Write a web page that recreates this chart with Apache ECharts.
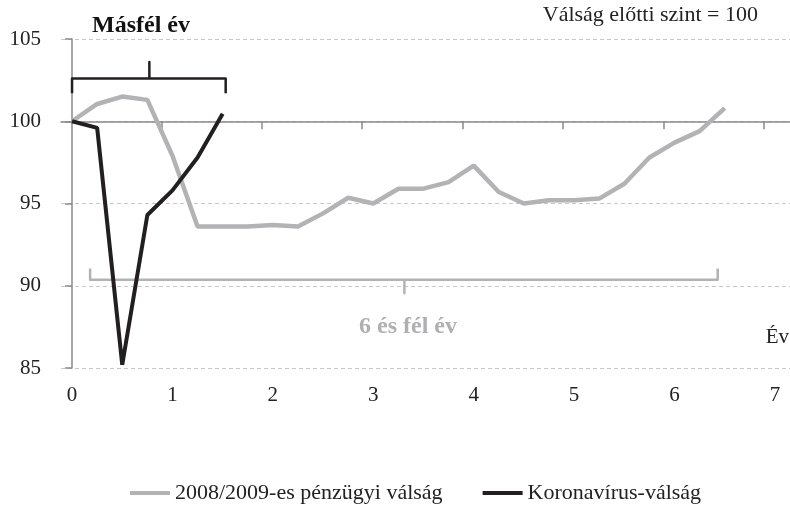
<!DOCTYPE html>
<html>
<head>
<meta charset="utf-8">
<script src="https://cdn.jsdelivr.net/npm/echarts@6/dist/echarts.min.js"></script>
<style>
  html, body { margin: 0; padding: 0; background: #fff; }
  #main { width: 790px; height: 505px; }
</style>
</head>
<body>
<div id="main"></div>
<script>
// negyedéves lépések (év)
var years = [0, 0.25, 0.5, 0.75, 1, 1.25, 1.5, 1.75, 2, 2.25, 2.5, 2.75, 3, 3.25, 3.5, 3.75, 4, 4.25, 4.5, 4.75, 5, 5.25, 5.5, 5.75, 6, 6.25, 6.5];
var crisis2008 = [100, 101.05, 101.5, 101.3, 97.9, 93.6, 93.6, 93.6, 93.7, 93.6, 94.4, 95.35, 95.0, 95.9, 95.9, 96.3, 97.3, 95.7, 95.0, 95.2, 95.2, 95.3, 96.2, 97.8, 98.7, 99.4, 100.8];
var covid = [100, 99.6, 85.2, 94.3, 95.8, 97.8, 100.45];
var xLabels = [0, 1, 2, 3, 4, 5, 6, 7];
var xTicks = [0.89, 1.89, 2.89, 3.89, 4.89, 5.89, 6.89];
var seriesNames = ['2008/2009-es pénzügyi válság', 'Koronavírus-válság'];

// kapcsos zárójelek (adat-koordinátában)
var bracketShort = [[0, 101.7], [0, 102.6], [0.77, 102.6], [0.77, 103.6], [0.77, 102.6], [1.53, 102.6], [1.53, 101.7]];
var bracketLong = [[0.18, 91.05], [0.18, 90.37], [3.31, 90.37], [3.31, 89.55], [3.31, 90.37], [6.43, 90.37], [6.43, 91.05]];

var font = '"Liberation Serif", "DejaVu Serif", serif';
var grayColor = '#b3b3b6';
var blackColor = '#231f20';

function pairs(xs, ys) {
  return ys.map(function (v, i) { return [xs[i], v]; });
}

var myChart = echarts.init(document.getElementById('main'));
myChart.setOption({
  animation: false,
  textStyle: { fontFamily: font },
  grid: [
    { left: 61, right: 0, top: 39, height: 329 },
    { left: 61, right: 0, top: 39, height: 82.25 }
  ],
  legend: {
    top: 477,
    left: 125,
    itemGap: 40,
    itemWidth: 40,
    itemHeight: 4,
    icon: 'rect',
    textStyle: { fontFamily: font, fontSize: 22, color: '#222' },
    data: seriesNames
  },
  xAxis: [{
    type: 'value',
    gridIndex: 0,
    min: -0.11,
    max: 7.15,
    axisLine: { show: false },
    axisTick: { show: false },
    splitLine: { show: false },
    axisLabel: {
      customValues: xLabels,
      margin: 17,
      fontSize: 21,
      color: '#222',
      fontFamily: font
    }
  }, {
    type: 'value',
    gridIndex: 1,
    min: -0.11,
    max: 7.15,
    axisLine: { show: true, lineStyle: { color: '#8a8a8a', width: 1.5 } },
    axisTick: { show: true, customValues: xTicks, length: 8, lineStyle: { color: '#8a8a8a', width: 1.5 } },
    axisLabel: { show: false },
    splitLine: { show: false }
  }],
  yAxis: [{
    type: 'value',
    gridIndex: 0,
    min: 85,
    max: 105,
    interval: 5,
    axisLine: { show: true, lineStyle: { color: '#8a8a8a', width: 1.5 } },
    axisTick: { show: true, length: 7, lineStyle: { color: '#8a8a8a', width: 1.5 } },
    splitLine: { show: true, lineStyle: { color: '#c8c8c8', type: [4, 3], width: 1 } },
    axisLabel: { margin: 20, fontSize: 21, color: '#222', fontFamily: font }
  }, {
    type: 'value',
    gridIndex: 1,
    min: 100,
    max: 105,
    show: false
  }],
  series: [{
    name: seriesNames[0],
    type: 'line',
    xAxisIndex: 0,
    yAxisIndex: 0,
    symbol: 'none',
    color: grayColor,
    lineStyle: { width: 4.5, color: grayColor },
    data: pairs(years, crisis2008),
    z: 3
  }, {
    name: seriesNames[1],
    type: 'line',
    xAxisIndex: 0,
    yAxisIndex: 0,
    symbol: 'none',
    color: blackColor,
    lineStyle: { width: 4, color: blackColor },
    data: pairs(years, covid),
    z: 4
  }, {
    name: 'bracket-short',
    type: 'line',
    symbol: 'none',
    silent: true,
    lineStyle: { width: 2.5, color: blackColor, join: 'round' },
    data: bracketShort,
    z: 5
  }, {
    name: 'bracket-long',
    type: 'line',
    symbol: 'none',
    silent: true,
    lineStyle: { width: 2.5, color: grayColor, join: 'round' },
    data: bracketLong,
    z: 2
  }],
  graphic: [{
    type: 'text',
    x: 758,
    y: 15,
    style: { text: 'Válság előtti szint = 100', font: '22px ' + font, fill: '#222', align: 'right', verticalAlign: 'middle' }
  }, {
    type: 'text',
    x: 141,
    y: 26,
    style: { text: 'Másfél év', font: 'bold 24px ' + font, fill: '#111', align: 'center', verticalAlign: 'middle' }
  }, {
    type: 'text',
    x: 408,
    y: 327,
    style: { text: '6 és fél év', font: 'bold 24px ' + font, fill: '#b0b0b3', align: 'center', verticalAlign: 'middle' }
  }, {
    type: 'text',
    x: 789,
    y: 337,
    style: { text: 'Év', font: '21px ' + font, fill: '#222', align: 'right', verticalAlign: 'middle' }
  }]
});
</script>
</body>
</html>
